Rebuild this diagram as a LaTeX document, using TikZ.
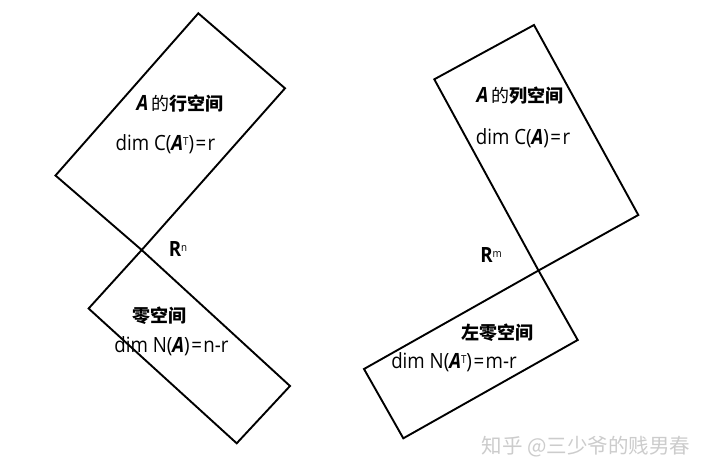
\documentclass[tikz,border=0pt]{standalone}
\usepackage{fontspec}
\setmainfont{Open Sans}[FakeStretch=0.89]
\newfontfamily\cjk{Noto Sans CJK SC}
\tikzset{
  box/.style={draw=black, line width=1.9pt, line join=miter},
  lab/.style={inner sep=0pt, anchor=center, font=\fontsize{21}{23}\selectfont},
  cj/.style={inner sep=0pt, anchor=center, font=\cjk\bfseries\fontsize{18}{20}\selectfont},
  wm/.style={inner sep=0pt, anchor=center, text=black!20, font=\cjk\fontsize{20.5}{22}\selectfont}
}
\newcommand{\bA}{\textbf{\textit{A}}}
\newcommand{\sm}[1]{\raisebox{5pt}{\fontsize{11}{12}\selectfont #1}}
\newcommand{\eq}{\hspace{1.5pt}=\hspace{1.5pt}}
\begin{document}
\begin{tikzpicture}[x=1pt,y=-1pt]
\useasboundingbox[fill=white] (0,0) rectangle (706,476);
% row space rectangle
\coordinate (r1) at (198.3,13.3);
\coordinate (r2) at (285,88.3);
\coordinate (x1) at (141.7,250);
\coordinate (r4) at (55.5,175.5);
% null space rectangle
\coordinate (n2) at (290,386);
\coordinate (n3) at (236.7,443.3);
\coordinate (n4) at (88.6,308.5);
% column space rectangle
\coordinate (c1) at (534,25);
\coordinate (c2) at (638.3,215);
\coordinate (x2) at (538.5,270.5);
\coordinate (c4) at (434.3,79.3);
% left null space rectangle
\coordinate (l2) at (577.7,340);
\coordinate (l3) at (403.3,438.3);
\coordinate (l4) at (364,369);
\draw[box] (r1) -- (r2) -- (x1) -- (r4) -- cycle;
\draw[box] (x1) -- (n2) -- (n3) -- (n4) -- cycle;
\draw[box] (c1) -- (c2) -- (x2) -- (c4) -- cycle;
\draw[box] (x2) -- (l2) -- (l3) -- (l4) -- cycle;
% texts
\node[cj] (t1) at (180,104) {{\normalfont\fontsize{21}{23}\selectfont\bA}\,\mdseries 的\bfseries 行空间};
\node[lab] (t2) at (165.5,144) {dim C(\bA\sm{T})\eq r};
\node[lab] (rn) at (178,249) {\textbf{R}\sm{n}};
\node[cj] (t3) at (159,316) {零空间};
\node[lab] (t4) at (171.5,346) {dim N(\bA)\eq n-r};
\node[cj] (t5) at (520,96) {{\normalfont\fontsize{21}{23}\selectfont\bA}\,\mdseries 的\bfseries 列空间};
\node[lab] (t6) at (523,138) {dim C(\bA)\eq r};
\node[lab] (rm) at (491,255) {\textbf{R}\sm{m}};
\node[cj] (t7) at (497,333) {左零空间};
\node[lab] (t8) at (454,362) {dim N(\bA\sm{T})\eq m-r};
\node[wm] (w) at (586,447) {知乎 @三少爷的贱男春};
\end{tikzpicture}
\end{document}
